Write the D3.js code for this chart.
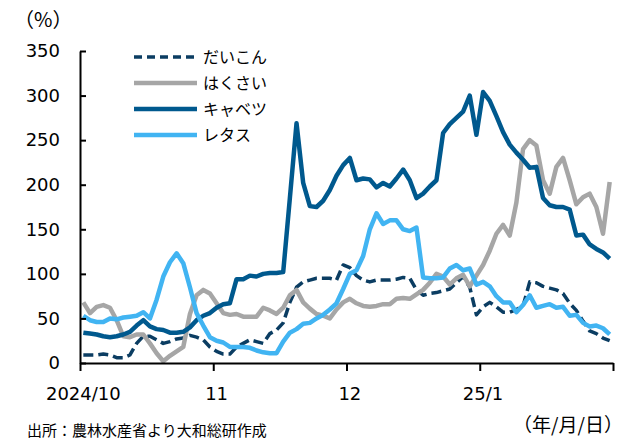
<!DOCTYPE html>
<html>
<head>
<meta charset="utf-8">
<script src="https://cdn.jsdelivr.net/npm/d3@7"></script>
<style>
  body { margin: 0; background: #fff; }
  svg { display: block; }
  text { font-family: "DejaVu Sans", "Noto Sans CJK JP", sans-serif; fill: #000; }
  .jp { font-family: "Noto Sans CJK JP", sans-serif; }
</style>
</head>
<body>
<section></section>
<script>
// 平年比（%）を読み取った値、1か月あたり20点
var monthLabels = ["2024/10", "11", "12", "25/1"]
var perMonth = 20

var daikon = [9, 9, 9, 10, 9, 6, 6, 9, 22, 30, 30, 26, 22, 24, 27, 28, 31, 29, 26, 18,
  13, 10, 10, 18, 22, 26, 24, 22, 33, 37, 45, 68, 85, 91, 93, 95, 95, 95, 93, 110,
  107, 98, 93, 91, 93, 93, 93, 94, 96, 95, 82, 76, 78, 79, 81, 83, 90, 97, 85, 54,
  63, 68, 63, 57, 57, 60, 64, 91, 90, 86, 84, 82, 78, 67, 59, 47, 36, 33, 28, 25]

var hakusai = [68, 56, 63, 65, 62, 48, 30, 29, 32, 32, 22, 11, 2, 8, 13, 18, 55, 76, 82, 78,
  67, 56, 54, 55, 52, 52, 52, 62, 59, 55, 62, 76, 82, 68, 61, 55, 53, 50, 60, 68,
  72, 67, 64, 63, 64, 66, 66, 72, 73, 72, 77, 82, 90, 100, 97, 88, 95, 99, 86, 98,
  110, 126, 145, 155, 143, 180, 240, 250, 244, 205, 190, 220, 230, 205, 178, 186, 190, 175, 145, 203]

var kyabetsu = [34, 33, 32, 30, 29, 30, 32, 35, 42, 48, 41, 38, 37, 34, 34, 35, 40, 48, 53, 56,
  62, 66, 67, 94, 94, 98, 97, 100, 101, 101, 102, 185, 269, 202, 176, 175, 182, 194, 210, 222,
  230, 205, 207, 206, 197, 202, 198, 207, 217, 205, 185, 190, 198, 205, 258, 268, 275, 282, 300, 256,
  304, 294, 277, 259, 245, 236, 228, 219, 220, 185, 177, 175, 175, 172, 143, 144, 133, 128, 124, 117]

var retasu = [53, 48, 46, 46, 50, 49, 51, 52, 53, 57, 50, 71, 97, 113, 123, 112, 85, 56, 42, 29,
  25, 23, 18, 18, 18, 17, 14, 12, 11, 11, 24, 34, 38, 44, 45, 50, 54, 60, 67, 83,
  100, 104, 120, 150, 168, 156, 160, 160, 150, 148, 152, 96, 95, 95, 96, 106, 110, 104, 106, 88,
  91, 86, 75, 68, 68, 57, 65, 76, 62, 64, 66, 62, 63, 53, 54, 45, 41, 42, 39, 32]

var series = [
  { name: "だいこん", values: daikon, color: "#0b3d62", width: 3.5, dash: "10,5" },
  { name: "はくさい", values: hakusai, color: "#a6a6a6", width: 4.5, dash: null },
  { name: "キャベツ", values: kyabetsu, color: "#00598e", width: 4.5, dash: null },
  { name: "レタス", values: retasu, color: "#41b4f2", width: 4.5, dash: null }
]

var width = 629
var height = 442
var margin = { top: 51, bottom: 79, left: 80, right: 16 }

var svg = d3.select("section")
  .append("svg")
  .attr("width", width)
  .attr("height", height)

var n = monthLabels.length * perMonth

var x = d3.scaleLinear()
  .domain([0, n])
  .range([margin.left, width - margin.right])

var y = d3.scaleLinear()
  .domain([0, 350])
  .range([height - margin.bottom, margin.top])

// 線
var line = d3.line()
  .x(function (d, i) { return x(i + 0.5) })
  .y(function (d) { return y(d) })

series.forEach(function (s) {
  svg.append("path")
    .datum(s.values)
    .attr("fill", "none")
    .attr("stroke", s.color)
    .attr("stroke-width", s.width)
    .attr("stroke-linejoin", "round")
    .attr("stroke-dasharray", s.dash)
    .attr("d", line)
})

// 軸
var ejeY = d3.axisLeft(y)
  .tickValues(d3.range(0, 351, 50))
  .tickSizeInner(-6)
  .tickSizeOuter(0)
  .tickPadding(20)

var gY = svg.append("g")
  .attr("transform", "translate(" + margin.left + ",0)")
  .call(ejeY)
gY.selectAll("text").attr("font-size", 18).attr("font-family", null)

var ejeX = d3.axisBottom(x)
  .tickValues(d3.range(0, n + 1, perMonth))
  .tickSizeInner(8)
  .tickSizeOuter(0)
  .tickFormat("")

var gX = svg.append("g")
  .attr("transform", "translate(0," + (height - margin.bottom) + ")")
  .call(ejeX)

gX.selectAll(".month")
  .data(monthLabels)
  .enter()
  .append("text")
  .attr("class", "month")
  .attr("x", function (d, i) { return x(i * perMonth + 0.5) })
  .attr("y", 37)
  .attr("text-anchor", "middle")
  .attr("font-size", 18)
  .style("fill", "#000")
  .text(function (d) { return d })

svg.selectAll(".domain, .tick line")
  .attr("stroke", "#000")
  .attr("stroke-width", 2)

// 凡例
var legend = svg.append("g")
series.forEach(function (s, i) {
  var ly = 57 + i * 26
  legend.append("line")
    .attr("x1", 134).attr("x2", 197)
    .attr("y1", ly).attr("y2", ly)
    .attr("stroke", s.color)
    .attr("stroke-width", s.width)
    .attr("stroke-dasharray", s.dash ? "8,5" : null)
  legend.append("text")
    .attr("class", "jp")
    .attr("x", 203)
    .attr("y", ly + 6)
    .attr("font-size", 16)
    .text(s.name)
})

// 注記
svg.append("text").attr("class", "jp")
  .attr("x", 14).attr("y", 27)
  .attr("font-size", 20)
  .text("（%）")

svg.append("text").attr("class", "jp")
  .attr("x", 623).attr("y", 432)
  .attr("text-anchor", "end")
  .attr("font-size", 19)
  .text("（年/月/日）")

svg.append("text").attr("class", "jp")
  .attr("x", 27).attr("y", 436)
  .attr("font-size", 15)
  .text("出所：農林水産省より大和総研作成")
</script>
</body>
</html>
